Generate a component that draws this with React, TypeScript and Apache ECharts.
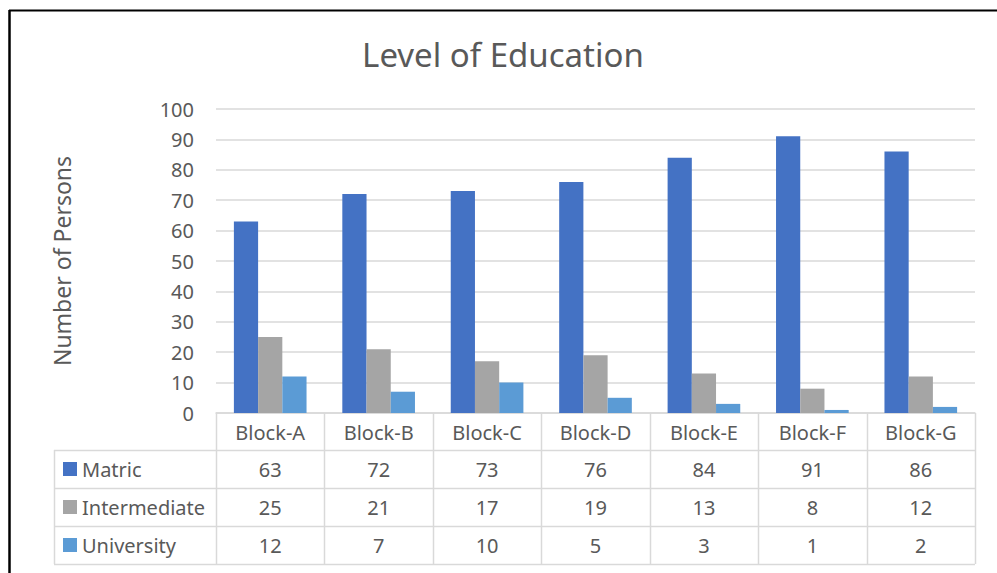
import React, { useEffect, useRef } from "react";
import * as echarts from "echarts";

const categories = ["Block-A", "Block-B", "Block-C", "Block-D", "Block-E", "Block-F", "Block-G"];
const seriesNames = ["Matric", "Intermediate", "University"];
const matric = [63, 72, 73, 76, 84, 91, 86];
const intermediate = [25, 21, 17, 19, 13, 8, 12];
const university = [12, 7, 10, 5, 3, 1, 2];
const colors = ["#4472C4", "#A5A5A5", "#5B9BD5"];
const yTicks = { min: 0, max: 100, interval: 10 };

const W = 997;
const H = 573;
const FONT = "'Noto Sans', 'Open Sans', sans-serif";
const TXT = "#595959";
const LINE = "#D9D9D9";

export default function App() {
  const ref = useRef<HTMLDivElement>(null);
  useEffect(() => {
    if (!ref.current) return;
    const chart = echarts.init(ref.current, null, { renderer: "svg", width: W, height: H });
    const gridLeft = 216;
    const gridRight = 975;
    const gridTop = 109;
    const axisY = 413;
    const rowTops = [450, 488, 526, 564];
    const tableLeft = 54;
    const cellW = (gridRight - gridLeft) / categories.length;
    const allData = [matric, intermediate, university];

    const graphics: any[] = [];
    // outer border (top & left)
    graphics.push({ type: "line", shape: { x1: 9, y1: 10.5, x2: W, y2: 10.5 }, style: { stroke: "#000", lineWidth: 2 } });
    graphics.push({ type: "line", shape: { x1: 9.5, y1: 10, x2: 9.5, y2: H }, style: { stroke: "#000", lineWidth: 2.5 } });
    // table vertical lines
    for (let i = 0; i <= categories.length; i++) {
      const x = Math.round(gridLeft + i * cellW) + 0.5;
      graphics.push({ type: "line", shape: { x1: x, y1: axisY, x2: x, y2: rowTops[3] }, style: { stroke: LINE, lineWidth: 1.5 } });
    }
    graphics.push({ type: "line", shape: { x1: tableLeft + 0.5, y1: rowTops[0], x2: tableLeft + 0.5, y2: rowTops[3] }, style: { stroke: LINE, lineWidth: 1.5 } });
    // table horizontal lines
    rowTops.forEach((y) => {
      graphics.push({ type: "line", shape: { x1: tableLeft, y1: y + 0.5, x2: gridRight, y2: y + 0.5 }, style: { stroke: LINE, lineWidth: 1.5 } });
    });
    // rows
    allData.forEach((arr, r) => {
      const cy = (rowTops[r] + rowTops[r + 1]) / 2;
      graphics.push({ type: "rect", shape: { x: 63, y: cy - 7, width: 14, height: 14 }, style: { fill: colors[r] } });
      graphics.push({
        type: "text",
        x: 82,
        y: cy,
        style: { text: seriesNames[r], fill: TXT, font: `20px ${FONT}`, textAlign: "left", textVerticalAlign: "middle" },
      });
      arr.forEach((v, c) => {
        graphics.push({
          type: "text",
          x: gridLeft + (c + 0.5) * cellW,
          y: cy,
          style: { text: String(v), fill: TXT, font: `20px ${FONT}`, textAlign: "center", textVerticalAlign: "middle" },
        });
      });
    });

    chart.setOption({
      animation: false,
      backgroundColor: "#fff",
      title: {
        text: "Level of Education",
        left: 498,
        textAlign: "center",
        top: 33,
        textStyle: { color: TXT, fontSize: 33, fontWeight: "normal", fontFamily: FONT },
      },
      grid: { left: gridLeft, right: W - gridRight, top: gridTop, bottom: H - axisY, containLabel: false },
      xAxis: {
        type: "category",
        data: categories,
        axisLine: { lineStyle: { color: LINE, width: 1.5 } },
        axisTick: { show: false },
        axisLabel: { color: TXT, fontSize: 20, fontFamily: FONT, margin: 9 },
      },
      yAxis: {
        type: "value",
        min: yTicks.min,
        max: yTicks.max,
        interval: yTicks.interval,
        name: "Number of Persons",
        nameLocation: "middle",
        nameRotate: 90,
        nameGap: 143,
        nameTextStyle: { color: TXT, fontSize: 23, fontFamily: FONT },
        axisLine: { show: false },
        axisTick: { show: false },
        axisLabel: { color: TXT, fontSize: 20, fontFamily: FONT, margin: 22 },
        splitLine: { lineStyle: { color: LINE, width: 1.5 } },
      },
      series: allData.map((d, i) => ({
        name: seriesNames[i],
        type: "bar",
        data: d,
        barGap: "0%",
        barCategoryGap: "33%",
        itemStyle: { color: colors[i] },
      })),
      graphic: graphics,
    });
    return () => chart.dispose();
  }, []);
  return <div ref={ref} style={{ position: "absolute", left: 0, top: 0, width: W, height: H }} />;
}
